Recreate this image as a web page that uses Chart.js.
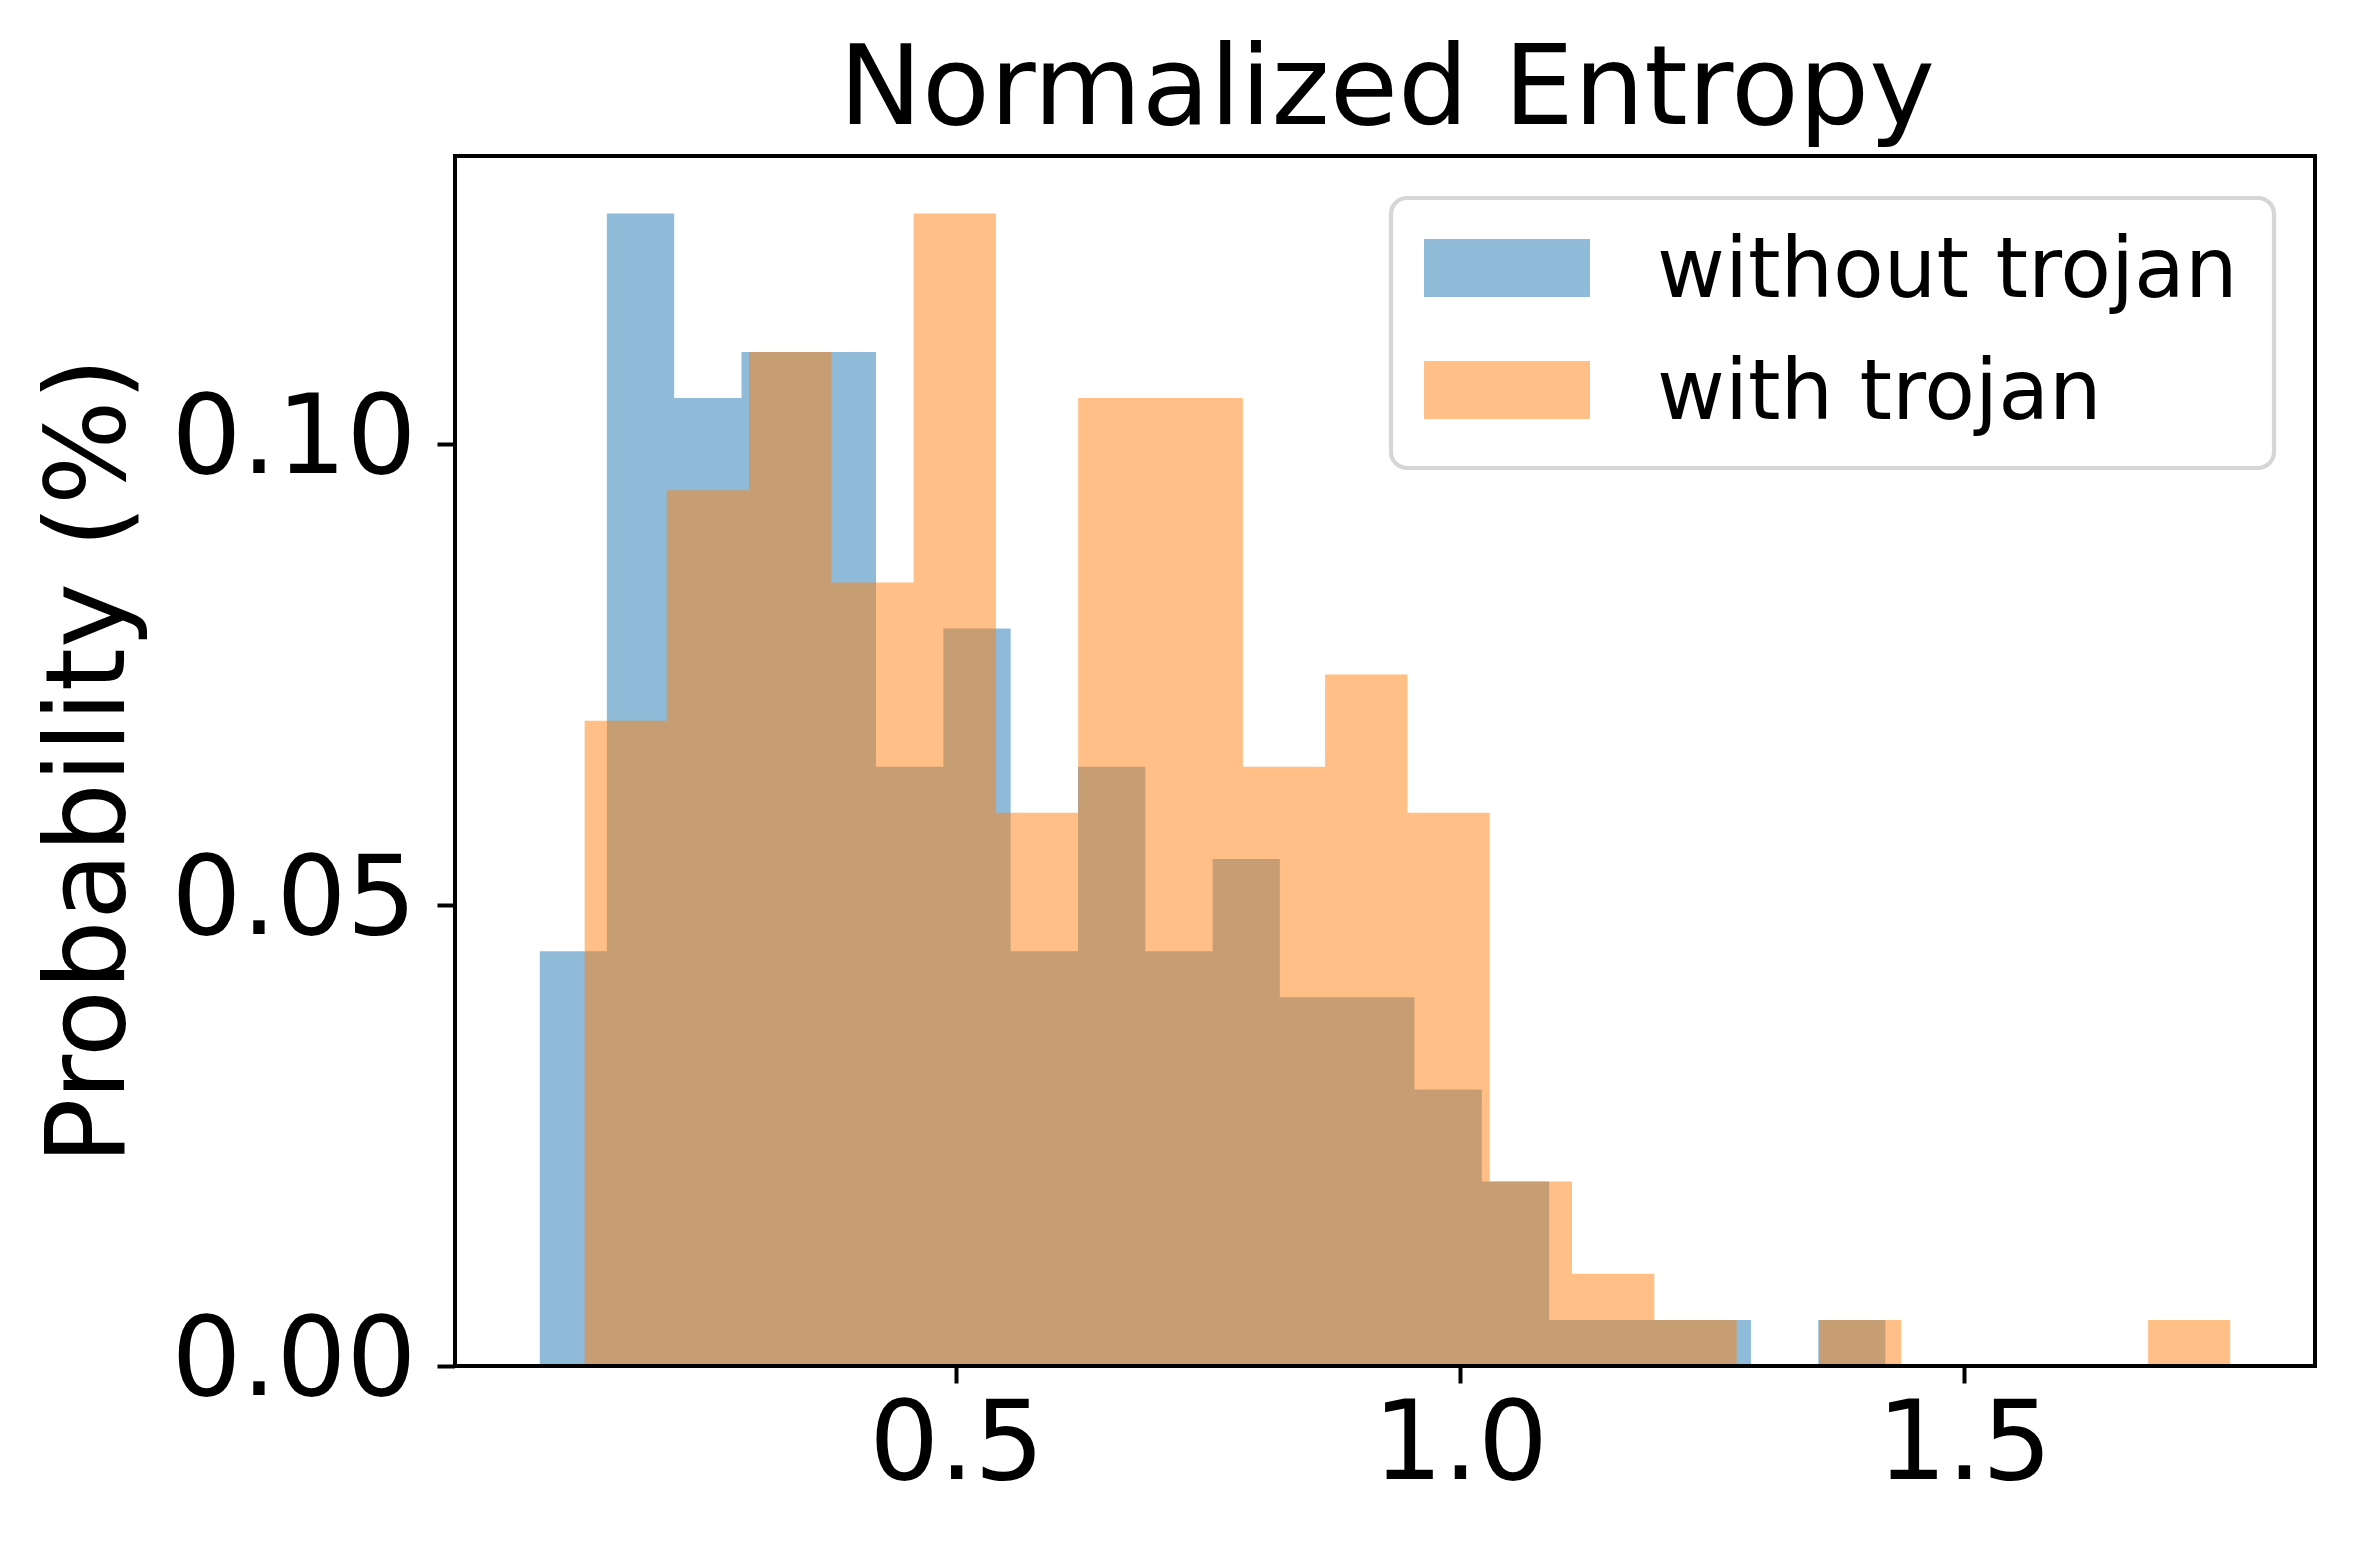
<!DOCTYPE html>
<html>
<head>
<meta charset="utf-8">
<script src="https://cdn.jsdelivr.net/npm/chart.js@4.4.1/dist/chart.umd.min.js"></script>
<style>
html,body{margin:0;padding:0;background:#ffffff;overflow:hidden}
canvas{display:block}
</style>
</head>
<body>
<canvas id="c" width="2355" height="1551" style="width:2355px;height:1551px"></canvas>
<script>
// ---- text ----
const chartTitle = 'Normalized Entropy';
const yAxisLabel = 'Probability (%)';
const seriesLabels = ['without trojan', 'with trojan'];

// ---- histogram data (bin edges + per-bin probability) ----
const binEdgesWithout = [0.0861, 0.1529, 0.2197, 0.2865, 0.3532, 0.4200, 0.4868, 0.5536, 0.6204, 0.6872,
                         0.7540, 0.8207, 0.8875, 0.9543, 1.0211, 1.0879, 1.1547, 1.2214, 1.2882, 1.3550, 1.4218];
const probWithout = [0.045, 0.125, 0.105, 0.110, 0.110, 0.065, 0.080, 0.045, 0.065, 0.045,
                     0.055, 0.040, 0.040, 0.030, 0.020, 0.005, 0.005, 0.005, 0.000, 0.005];

const binEdgesWith = [0.1306, 0.2123, 0.2939, 0.3756, 0.4573, 0.5390, 0.6206, 0.7023, 0.7840, 0.8656,
                      0.9473, 1.0290, 1.1106, 1.1923, 1.2740, 1.3557, 1.4373, 1.5190, 1.6007, 1.6823, 1.7640];
const probWith = [0.070, 0.095, 0.110, 0.085, 0.125, 0.060, 0.105, 0.105, 0.065, 0.075,
                  0.060, 0.020, 0.010, 0.005, 0.000, 0.005, 0.000, 0.000, 0.000, 0.005];

// ---- axes ----
const xTickValues = [0.5, 1.0, 1.5];
const yTickValues = [0.00, 0.05, 0.10];
const xLimits = [0.0022, 1.8479];
const yLimits = [0, 0.13125];

// ---- colours ----
const blueFill = 'rgba(31,119,180,0.5)';
const orangeFill = 'rgba(255,127,14,0.5)';

function stepPoints(edges, vals) {
  return edges.map((e, i) => ({ x: e, y: vals[Math.min(i, vals.length - 1)] }));
}

const FONT = "'DejaVu Sans', 'Liberation Sans', sans-serif";
Chart.defaults.font.family = FONT;
Chart.defaults.color = '#000000';

const decor = {
  id: 'decor',
  afterDatasetsDraw(chart) {
    const { ctx, chartArea: a } = chart;
    ctx.save();
    ctx.strokeStyle = '#000000';
    ctx.lineWidth = 4;
    ctx.lineJoin = 'miter';
    ctx.strokeRect(a.left, a.top, a.right - a.left, a.bottom - a.top);
    ctx.restore();
  },
  afterDraw(chart) {
    const { ctx, chartArea: a } = chart;
    ctx.save();
    // title
    ctx.fillStyle = '#000000';
    ctx.font = '111px ' + FONT;
    ctx.textAlign = 'center';
    ctx.textBaseline = 'alphabetic';
    ctx.fillText(chartTitle, (a.left + a.right) / 2 + 2, 124);
    // y label
    ctx.save();
    ctx.font = '110px ' + FONT;
    ctx.translate(124, (a.top + a.bottom) / 2);
    ctx.rotate(-Math.PI / 2);
    ctx.fillText(yAxisLabel, 0, 0);
    ctx.restore();
    // legend frame
    const lx = 1391, ly = 198, lw = 883, lh = 270;
    ctx.beginPath();
    ctx.roundRect(lx, ly, lw, lh, 16);
    ctx.fillStyle = 'rgba(255,255,255,0.8)';
    ctx.fill();
    ctx.lineWidth = 4.2;
    ctx.strokeStyle = '#d6d6d6';
    ctx.stroke();
    // legend entries
    const baselines = [297, 419];
    ctx.font = '83px ' + FONT;
    ctx.textAlign = 'left';
    ctx.textBaseline = 'alphabetic';
    seriesLabels.forEach((lab, i) => {
      const ds = chart.data.datasets.find(d => d.label === lab);
      ctx.fillStyle = '#ffffff';
      ctx.fillRect(1424, baselines[i] - 58, 166, 58);
      ctx.fillStyle = ds.backgroundColor;
      ctx.fillRect(1424, baselines[i] - 58, 166, 58);
      ctx.fillStyle = '#000000';
      ctx.fillText(lab, 1657, baselines[i]);
    });
    ctx.restore();
  }
};

new Chart(document.getElementById('c'), {
  type: 'line',
  data: {
    datasets: [
      {
        label: seriesLabels[0],
        data: stepPoints(binEdgesWithout, probWithout),
        backgroundColor: blueFill,
        borderColor: 'rgba(0,0,0,0)',
        borderWidth: 0,
        fill: 'origin',
        stepped: 'before',
        pointRadius: 0,
        order: 2
      },
      {
        label: seriesLabels[1],
        data: stepPoints(binEdgesWith, probWith),
        backgroundColor: orangeFill,
        borderColor: 'rgba(0,0,0,0)',
        borderWidth: 0,
        fill: 'origin',
        stepped: 'before',
        pointRadius: 0,
        order: 1
      }
    ]
  },
  options: {
    responsive: false,
    devicePixelRatio: 1,
    animation: false,
    events: [],
    layout: { padding: { left: 0, top: 156, right: 40, bottom: 0 } },
    plugins: {
      legend: { display: false },
      title: { display: false },
      tooltip: { enabled: false }
    },
    scales: {
      x: {
        type: 'linear',
        position: 'bottom',
        min: xLimits[0],
        max: xLimits[1],
        afterBuildTicks: s => { s.ticks = xTickValues.map(v => ({ value: v })); },
        afterFit: s => { s.height = 185; },
        ticks: {
          autoSkip: false,
          maxRotation: 0,
          minRotation: 0,
          padding: 12,
          color: '#000000',
          font: { size: 110, lineHeight: 1 },
          callback: v => Number(v).toFixed(1)
        },
        grid: {
          display: true,
          drawOnChartArea: false,
          drawTicks: true,
          tickLength: 17.5,
          tickWidth: 4,
          tickColor: '#000000'
        },
        border: { display: false }
      },
      y: {
        type: 'linear',
        position: 'left',
        min: yLimits[0],
        max: yLimits[1],
        afterBuildTicks: s => { s.ticks = yTickValues.map(v => ({ value: v })); },
        afterFit: s => { s.width = 455; },
        ticks: {
          autoSkip: false,
          padding: 21,
          color: '#000000',
          font: { size: 110, lineHeight: 1 },
          callback: v => Number(v).toFixed(2)
        },
        grid: {
          display: true,
          drawOnChartArea: false,
          drawTicks: true,
          tickLength: 17.5,
          tickWidth: 4,
          tickColor: '#000000'
        },
        border: { display: false }
      }
    }
  },
  plugins: [decor]
});
</script>
</body>
</html>
